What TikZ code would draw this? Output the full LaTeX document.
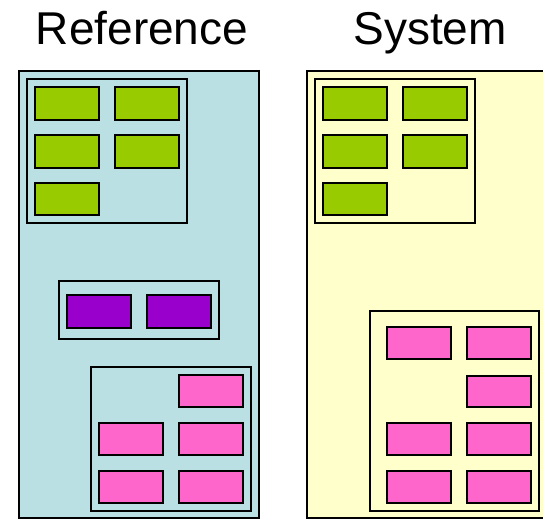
\documentclass[tikz,border=0pt]{standalone}
\usepackage{fontspec}
\setmainfont{Liberation Sans}
\definecolor{refbg}{HTML}{BBE0E3}
\definecolor{sysbg}{HTML}{FFFFCC}
\definecolor{grn}{HTML}{99CC00}
\definecolor{prp}{HTML}{9900CC}
\definecolor{pnk}{HTML}{FF66CC}
\tikzset{
  panel/.style={draw=black, line width=2pt},
  grp/.style={draw=black, line width=1.5pt},
  cell/.style={draw=black, line width=2pt},
  ttl/.style={font=\fontsize{46}{50}\selectfont, anchor=base, inner sep=0pt},
}
\begin{document}
\begin{tikzpicture}[x=1pt,y=-1pt]
\useasboundingbox (0,0) rectangle (543,520);
\clip (0,0) rectangle (543,520);
\node[ttl] (tref) at (142,44) {Reference};
\node[ttl] (tsys) at (430,44) {System};
% left panel
\draw[panel, fill=refbg] (19,71) rectangle (259,518);
\draw[grp] (27,79) rectangle (187,223);
\foreach \x in {35,115}{
  \draw[cell, fill=grn] (\x,87) rectangle ++(64,33);
  \draw[cell, fill=grn] (\x,135) rectangle ++(64,33);
}
\draw[cell, fill=grn] (35,183) rectangle ++(64,32);
\draw[grp] (59,281) rectangle (219,339);
\draw[cell, fill=prp] (67,295) rectangle ++(64,33);
\draw[cell, fill=prp] (147,295) rectangle ++(64,33);
\draw[grp] (91,367) rectangle (251,511);
\draw[cell, fill=pnk] (179,375) rectangle ++(64,32);
\foreach \y in {423,471}{
  \draw[cell, fill=pnk] (99,\y) rectangle ++(64,32);
  \draw[cell, fill=pnk] (179,\y) rectangle ++(64,32);
}
% right panel
\draw[panel, fill=sysbg] (307,71) rectangle (560,518);
\draw[grp] (315,79) rectangle (475,223);
\foreach \x in {323,403}{
  \draw[cell, fill=grn] (\x,87) rectangle ++(64,33);
  \draw[cell, fill=grn] (\x,135) rectangle ++(64,33);
}
\draw[cell, fill=grn] (323,183) rectangle ++(64,32);
\draw[grp] (370,311) rectangle (539,511);
\draw[cell, fill=pnk] (387,327) rectangle ++(64,32);
\draw[cell, fill=pnk] (467,327) rectangle ++(64,32);
\draw[cell, fill=pnk] (467,376) rectangle ++(64,31);
\foreach \y in {423,471}{
  \draw[cell, fill=pnk] (387,\y) rectangle ++(64,32);
  \draw[cell, fill=pnk] (467,\y) rectangle ++(64,32);
}
\end{tikzpicture}
\end{document}
